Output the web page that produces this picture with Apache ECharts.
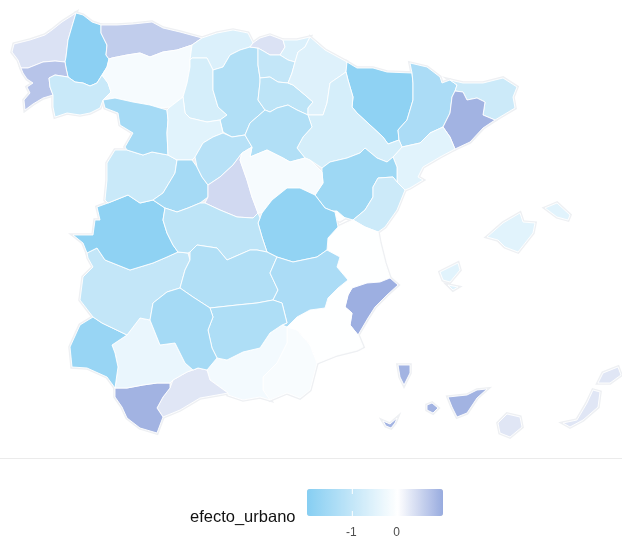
<!DOCTYPE html>
<html>
<head>
<meta charset="utf-8">
<style>html,body{margin:0;padding:0;background:#fff}#c{width:622px;height:540px}</style>
<script src="https://cdn.jsdelivr.net/npm/echarts@6/dist/echarts.min.js"></script>
</head>
<body>
<div id="c"></div>
<script>
const provinces = ["A Coruña","Lugo","Pontevedra","Ourense","Asturias","León","Cantabria","Palencia","Burgos","Bizkaia","Gipuzkoa","Araba","La Rioja","Navarra","Huesca","Lleida","Girona","Barcelona","Tarragona","Zaragoza","Teruel","Castellón","Valencia","Alicante","Murcia","Almería","Granada","Málaga","Cádiz","Sevilla","Huelva","Badajoz","Cáceres","Salamanca","Zamora","Valladolid","Ávila","Segovia","Madrid","Soria","Guadalajara","Cuenca","Toledo","Ciudad Real","Albacete","Jaén","Córdoba","Baleares","Santa Cruz de Tenerife","Las Palmas"];
const efectoUrbano = [0.35,-1.9,0.7,-0.9,0.6,-0.15,-0.6,-0.7,-1.3,0.35,-0.6,-1.0,-1.1,-0.55,-1.85,-1.4,-0.85,0.9,-0.5,-0.7,-1.6,-0.85,-0.02,0.95,-0.02,-0.12,-0.2,0.3,0.9,-0.35,-1.7,-1.0,-1.85,-0.9,-1.5,-0.5,-1.5,-1.2,0.45,-1.3,-0.15,-1.8,-1.1,-1.3,-1.4,-1.35,-1.5,-0.5,0.9,0.3];
const legendTicks = [-1,0];
const legendTitle = "efecto_urbano";
const outlines = {
"A Coruña":[[[76,13],[62,22],[52,30],[45,35],[30,40],[14,44],[12,52],[18,60],[21,68],[28,68],[33,66],[43,62],[55,61],[65,62],[66,57],[68,40],[73,23]]],
"Lugo":[[[76,13],[83,15],[92,22],[101,25],[101,33],[107,45],[106,55],[109,59],[107,67],[102,75],[97,83],[90,86],[83,83],[75,82],[68,77],[66,68],[65,62],[66,57],[68,40],[73,23]]],
"Pontevedra":[[[21,68],[28,68],[33,66],[43,62],[55,61],[65,62],[66,68],[68,77],[55,75],[49,78],[50,87],[53,95],[43,98],[33,104],[25,110],[24,100],[30,93],[27,87],[33,83],[27,79],[23,73]]],
"Ourense":[[[55,75],[68,77],[75,82],[83,83],[90,86],[97,83],[102,75],[108,83],[111,92],[103,100],[100,108],[90,113],[80,115],[67,113],[55,117],[53,107],[53,95],[50,87],[49,78]]],
"Asturias":[[[101,25],[117,25],[133,24],[152,22],[163,28],[180,32],[202,38],[192,45],[177,50],[163,52],[150,57],[140,53],[127,55],[112,58],[109,59],[106,55],[107,45],[101,33]]],
"León":[[[109,59],[112,58],[127,55],[140,53],[150,57],[163,52],[177,50],[192,45],[190,60],[190,67],[187,83],[183,97],[170,107],[160,108],[150,105],[133,102],[115,98],[103,100],[111,92],[108,83],[102,75],[107,67]]],
"Cantabria":[[[192,45],[202,38],[217,33],[233,30],[248,33],[253,43],[250,47],[240,50],[230,55],[223,67],[213,70],[207,58],[192,58],[190,60]]],
"Palencia":[[[190,60],[192,58],[207,58],[213,70],[213,90],[218,107],[227,115],[220,120],[207,122],[190,118],[185,113],[183,97],[187,83],[190,67]]],
"Burgos":[[[213,70],[223,67],[230,55],[240,50],[250,47],[258,48],[258,65],[260,78],[260,82],[258,100],[265,110],[250,123],[245,135],[232,137],[223,132],[220,120],[227,115],[218,107],[213,90]],[[273,68],[281,68],[280,75],[274,74]]],
"Bizkaia":[[[253,43],[260,38],[270,35],[283,40],[285,47],[280,55],[270,55],[265,52],[258,48],[250,47]]],
"Gipuzkoa":[[[283,40],[297,40],[310,37],[305,47],[298,52],[295,62],[288,60],[280,55],[285,47]]],
"Araba":[[[258,48],[265,52],[270,55],[280,55],[288,60],[295,62],[292,73],[288,83],[278,82],[270,77],[260,78],[258,65]]],
"La Rioja":[[[260,78],[270,77],[278,82],[288,83],[293,85],[305,95],[313,102],[308,108],[308,115],[297,110],[288,105],[277,108],[270,112],[265,110],[258,100],[260,82]]],
"Navarra":[[[310,37],[325,50],[347,62],[346,72],[330,83],[327,103],[323,115],[308,115],[308,108],[313,102],[305,95],[293,85],[288,83],[292,73],[295,62],[298,52],[305,47]]],
"Huesca":[[[347,62],[357,68],[373,68],[387,72],[412,73],[413,83],[413,100],[407,120],[398,130],[399,140],[388,144],[383,137],[370,125],[357,113],[352,107],[353,97],[348,80],[346,72]]],
"Lleida":[[[412,73],[410,63],[427,67],[440,77],[442,83],[450,80],[457,85],[455,91],[452,97],[450,113],[443,127],[430,133],[420,143],[402,147],[399,140],[398,130],[407,120],[413,100],[413,83]]],
"Girona":[[[450,80],[463,83],[483,83],[503,78],[517,87],[513,97],[515,108],[500,117],[495,120],[483,115],[485,102],[477,98],[467,100],[463,92],[455,91],[457,85]]],
"Barcelona":[[[455,91],[463,92],[467,100],[477,98],[485,102],[483,115],[495,120],[483,128],[470,142],[455,149],[450,137],[443,127],[450,113],[452,97]]],
"Tarragona":[[[443,127],[450,137],[455,149],[440,157],[423,167],[418,177],[423,180],[410,188],[405,190],[397,182],[397,167],[393,157],[402,147],[420,143],[430,133]]],
"Zaragoza":[[[323,115],[327,103],[330,83],[346,72],[348,80],[353,97],[352,107],[357,113],[370,125],[383,137],[388,144],[399,140],[402,147],[393,157],[387,162],[377,158],[365,148],[360,153],[347,158],[330,162],[322,168],[310,160],[305,158],[297,148],[303,137],[312,127],[308,115]]],
"Teruel":[[[322,168],[330,162],[347,158],[360,153],[365,148],[377,158],[387,162],[393,157],[397,167],[397,182],[393,177],[378,178],[373,187],[373,197],[365,210],[353,220],[343,217],[335,212],[325,208],[315,195],[323,183],[322,172]]],
"Castellón":[[[378,178],[393,177],[397,182],[405,190],[397,210],[385,227],[378,232],[365,227],[353,220],[365,210],[373,197],[373,187]]],
"Valencia":[[[353,220],[365,227],[378,232],[380,243],[385,263],[390,278],[380,282],[367,283],[352,288],[348,280],[337,267],[340,257],[327,250],[328,238],[338,227]],[[330,211],[337,211],[345,218],[340,221],[332,218]]],
"Alicante":[[[352,288],[367,283],[380,282],[390,278],[398,285],[387,295],[375,307],[368,318],[358,335],[350,325],[352,313],[345,307],[348,295]]],
"Murcia":[[[352,288],[348,295],[345,307],[352,313],[350,325],[358,335],[363,347],[357,350],[337,355],[317,363],[310,345],[297,330],[287,327],[297,317],[310,310],[325,308],[328,298],[338,288],[348,280]]],
"Almería":[[[287,327],[297,330],[310,345],[317,363],[310,390],[300,398],[287,393],[270,400],[263,390],[263,377],[277,363],[287,343]]],
"Granada":[[[207,370],[217,358],[227,360],[243,352],[260,348],[270,333],[282,325],[287,327],[287,343],[277,363],[263,377],[263,390],[270,400],[260,397],[243,400],[228,395],[228,393],[210,380]]],
"Málaga":[[[198,368],[207,370],[210,380],[228,393],[217,395],[200,398],[180,410],[163,417],[157,408],[163,397],[170,388],[173,380],[187,372]]],
"Cádiz":[[[115,388],[127,388],[143,385],[157,383],[170,383],[170,388],[163,397],[157,408],[163,417],[157,433],[140,428],[127,418],[122,407],[115,397]]],
"Sevilla":[[[112,345],[127,335],[140,318],[150,320],[160,345],[175,343],[185,363],[193,370],[198,368],[187,372],[173,380],[170,383],[157,383],[143,385],[127,388],[115,388],[118,367],[115,353]]],
"Huelva":[[[70,347],[80,325],[93,317],[102,323],[127,335],[112,345],[115,353],[118,367],[115,388],[107,377],[87,368],[72,367]]],
"Badajoz":[[[87,253],[97,248],[105,260],[130,270],[153,263],[167,257],[178,252],[188,253],[190,260],[185,270],[180,288],[167,292],[153,303],[150,320],[140,318],[127,335],[102,323],[93,317],[80,300],[83,277],[93,267],[88,258]]],
"Cáceres":[[[97,207],[108,203],[128,195],[140,203],[153,200],[165,208],[163,220],[167,233],[173,245],[178,252],[167,257],[153,263],[130,270],[105,260],[97,248],[87,253],[83,243],[73,235],[93,235],[95,220],[100,220]]],
"Salamanca":[[[107,163],[115,150],[127,150],[143,155],[152,152],[168,155],[177,160],[175,173],[163,193],[153,200],[140,203],[128,195],[108,203],[105,200],[107,180]]],
"Zamora":[[[103,100],[115,98],[133,102],[150,105],[160,108],[167,110],[168,120],[167,133],[168,155],[152,152],[143,155],[127,150],[125,147],[133,133],[120,125],[118,113],[105,108]]],
"Valladolid":[[[167,110],[170,107],[183,97],[185,113],[190,118],[207,122],[220,120],[223,133],[213,137],[203,143],[195,157],[192,160],[177,160],[168,155],[167,133],[168,120]]],
"Ávila":[[[177,160],[192,160],[197,167],[202,177],[208,185],[208,197],[200,203],[188,208],[177,212],[165,208],[153,200],[163,193],[175,173]]],
"Segovia":[[[195,157],[203,143],[213,137],[223,133],[232,137],[245,135],[252,147],[242,153],[233,165],[220,177],[208,185],[202,177],[197,167]]],
"Madrid":[[[242,153],[240,160],[247,180],[252,197],[258,213],[253,218],[237,217],[220,210],[205,203],[208,197],[208,185],[220,177],[233,165]]],
"Soria":[[[245,135],[250,123],[265,110],[270,112],[277,108],[288,105],[297,110],[308,115],[312,127],[303,137],[297,148],[305,158],[290,162],[283,158],[267,150],[250,157],[252,147]]],
"Guadalajara":[[[252,147],[250,157],[267,150],[283,158],[290,162],[305,158],[310,160],[322,172],[323,183],[315,195],[300,188],[287,188],[272,200],[262,213],[258,213],[252,197],[247,180],[240,160],[242,153]]],
"Cuenca":[[[272,200],[287,188],[300,188],[315,195],[325,208],[335,212],[338,227],[328,238],[327,250],[317,257],[293,262],[277,257],[267,252],[262,237],[258,223],[260,218],[262,213]]],
"Toledo":[[[165,208],[177,212],[188,208],[200,203],[205,203],[220,210],[237,217],[253,218],[258,213],[260,218],[258,223],[262,237],[267,252],[257,250],[250,250],[227,260],[217,248],[197,245],[190,252],[188,253],[178,252],[173,245],[167,233],[163,220]]],
"Ciudad Real":[[[190,252],[197,245],[217,248],[227,260],[250,250],[257,250],[267,252],[277,257],[270,273],[278,290],[273,300],[257,303],[237,305],[210,308],[193,297],[180,288],[185,270],[190,260]]],
"Albacete":[[[277,257],[293,262],[317,257],[327,250],[340,257],[337,267],[348,280],[338,288],[328,298],[325,308],[310,310],[297,317],[287,327],[282,325],[287,323],[282,303],[273,300],[278,290],[270,273]]],
"Jaén":[[[210,308],[237,305],[257,303],[273,300],[282,303],[287,323],[282,325],[270,333],[260,348],[243,352],[227,360],[217,358],[212,348],[208,330],[213,317]]],
"Córdoba":[[[153,303],[167,292],[180,288],[193,297],[210,308],[213,317],[208,330],[212,348],[217,358],[207,370],[198,368],[193,370],[185,363],[175,343],[160,345],[150,320]]],
"Baleares":[[[487,237],[503,223],[520,213],[523,222],[535,223],[533,233],[518,252],[505,247],[498,240]],[[545,208],[557,203],[570,215],[568,220],[557,217]],[[440,272],[458,263],[460,270],[450,282],[443,280]],[[448,285],[458,287],[453,290]]],
"Santa Cruz de Tenerife":[[[398,365],[410,365],[410,373],[404,385],[400,377]],[[427,405],[432,403],[438,408],[433,413],[427,410]],[[383,421],[390,424],[397,418],[395,423],[391,428],[386,426]],[[448,397],[467,395],[477,390],[487,389],[477,398],[467,413],[457,417],[452,407]]],
"Las Palmas":[[[498,423],[507,414],[520,417],[522,427],[510,437],[500,433]],[[563,423],[577,420],[587,403],[593,390],[600,392],[598,407],[583,420],[570,427]],[[598,383],[603,373],[618,367],[621,375],[610,383]]]
};

const features = provinces.map(name => ({
  type: "Feature",
  properties: { name },
  geometry: { type: "MultiPolygon", coordinates: outlines[name].map(r => [r.map(p => [p[0], -p[1]])]) }
}));
echarts.registerMap("spain", { type: "FeatureCollection", features });

const pts = provinces.flatMap(n => outlines[n].flat());
const minX = Math.min(...pts.map(p => p[0])), maxX = Math.max(...pts.map(p => p[0]));
const minY = Math.min(...pts.map(p => p[1])), maxY = Math.max(...pts.map(p => p[1]));
const box = { left: minX, top: minY, width: maxX - minX, height: maxY - minY };

const chart = echarts.init(document.getElementById("c"), null, { renderer: "canvas" });
chart.setOption({
  animation: false,
  backgroundColor: "#ffffff",
  geo: Object.assign({ map: "spain", aspectScale: 1, roam: false, silent: true, z: 0,
    label: { show: false }, emphasis: { disabled: true }, select: { disabled: true },
    itemStyle: { areaColor: "#f4f5f7", borderColor: "#eef0f3", borderWidth: 3.5 } }, box),
  visualMap: {
    type: "continuous", seriesIndex: 0, min: -2, max: 1, orient: "horizontal",
    left: 307, top: 489, itemWidth: 27, itemHeight: 136, padding: 0, text: null,
    calculable: false, realtime: false, hoverLink: false,
    inRange: { color: ["#86CEF2", "#C3E6F8", "#FFFFFF", "#98ABDF"] }
  },
  series: [
    Object.assign({ type: "map", map: "spain", aspectScale: 1, roam: false, silent: true, z: 2,
      label: { show: false }, emphasis: { disabled: true }, select: { disabled: true },
      itemStyle: { borderColor: "#ffffff", borderWidth: 0.9 },
      data: provinces.map((name, i) => ({ name, value: efectoUrbano[i] })) }, box)
  ],
  graphic: [
    { type: "line", shape: { x1: 0, y1: 458.5, x2: 622, y2: 458.5 }, style: { stroke: "#ebebeb", lineWidth: 1 } },
    { type: "text", left: 190, top: 509, style: { text: legendTitle, font: "16.5px 'Liberation Sans', Arial, sans-serif", fill: "#111" } },
    ...legendTicks.flatMap(t => {
      const x = 307 + (t + 2) / 3 * 136;
      return [
        { type: "rect", z: 10, shape: { x: x - 0.5, y: 489, width: 1, height: 5 }, style: { fill: "#fff" } },
        { type: "rect", z: 10, shape: { x: x - 0.5, y: 511, width: 1, height: 5 }, style: { fill: "#fff" } },
        { type: "text", z: 10, x: x - 1, y: 527, style: { text: String(t), font: "12px 'Liberation Sans', Arial, sans-serif", fill: "#4d4d4d", textAlign: "center" } }
      ];
    })
  ]
});
</script>
</body>
</html>
